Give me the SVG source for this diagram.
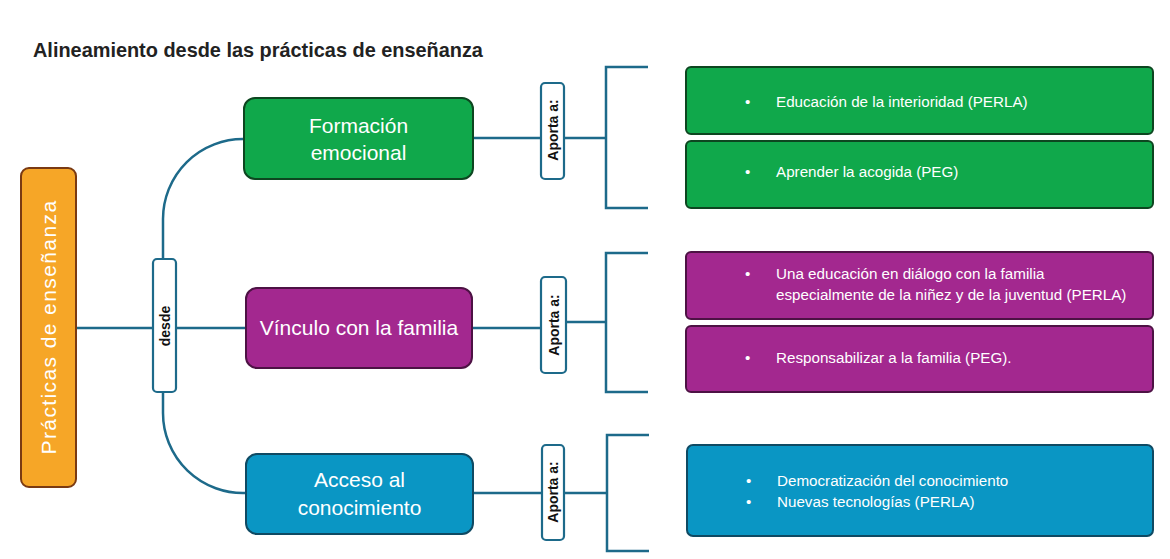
<svg xmlns="http://www.w3.org/2000/svg" width="1170" height="559" viewBox="0 0 1170 559">
<style>
  .conn { fill: none; stroke: #1d6a8a; stroke-width: 2.5; }
  .tag { fill: #ffffff; stroke: #1d6a8a; stroke-width: 2.2; }
  .tagtxt { font-family: "Liberation Sans", Arial, sans-serif; font-weight: bold; font-size: 14px; fill: #111111; }
  .node { font-family: "Liberation Sans", Arial, sans-serif; font-size: 21px; fill: #ffffff; }
  .item { font-family: "Liberation Sans", Arial, sans-serif; font-size: 15.2px; fill: #ffffff; }
  .green { fill: #10a84b; stroke: #0d4620; stroke-width: 2; }
  .purple { fill: #a3288f; stroke: #4d1244; stroke-width: 2; }
  .blue { fill: #0a96c4; stroke: #0f4a63; stroke-width: 2; }
</style>
<rect width="1170" height="559" fill="#ffffff"/>
<text x="33" y="57" font-family="Liberation Sans, Arial, sans-serif" font-weight="bold" font-size="19.9" fill="#222222">Alineamiento desde las prácticas de enseñanza</text>

<g id="connectors">
  <line class="conn" x1="76" y1="328" x2="246" y2="328"/>
  <path class="conn" d="M163,259 V219 A80,80 0 0 1 244,139"/>
  <path class="conn" d="M163,392 V413 A80,80 0 0 0 246,493"/>
  <line class="conn" x1="473" y1="138" x2="541" y2="138"/>
  <line class="conn" x1="564" y1="138" x2="606" y2="138"/>
  <path class="conn" d="M648,67 H606 V208 H648"/>
  <line class="conn" x1="472" y1="328" x2="541" y2="328"/>
  <line class="conn" x1="566" y1="322" x2="606" y2="322"/>
  <path class="conn" d="M648,253 H606 V392 H648"/>
  <line class="conn" x1="473" y1="493" x2="542" y2="493"/>
  <line class="conn" x1="564" y1="493" x2="607" y2="493"/>
  <path class="conn" d="M649,435 H607 V551 H649"/>
</g>

<g id="root">
  <rect x="21" y="168" width="55" height="319" rx="8" fill="#f6a627" stroke="#7a3a12" stroke-width="2"/>
  <text class="node" font-size="25" letter-spacing="1.4" text-anchor="middle" dominant-baseline="central" transform="translate(48.5,327) rotate(-90)">Prácticas de enseñanza</text>
</g>

<g id="desde">
  <rect class="tag" x="153" y="259" width="23" height="133" rx="4"/>
  <text class="tagtxt" text-anchor="middle" dominant-baseline="central" transform="translate(165,326) rotate(-90)">desde</text>
</g>

<g id="formacion">
  <rect class="green" x="244" y="98" width="229" height="81" rx="11"/>
  <text class="node" x="358.5" y="133" text-anchor="middle">Formación</text>
  <text class="node" x="358.5" y="160" text-anchor="middle">emocional</text>
</g>

<g id="vinculo">
  <rect class="purple" x="246" y="288" width="226" height="80" rx="11"/>
  <text class="node" x="359" y="335" text-anchor="middle">Vínculo con la familia</text>
</g>

<g id="acceso">
  <rect class="blue" x="246" y="454" width="227" height="80" rx="11"/>
  <text class="node" x="359.5" y="487" text-anchor="middle">Acceso al</text>
  <text class="node" x="359.5" y="515" text-anchor="middle">conocimiento</text>
</g>

<g id="aporta1">
  <rect class="tag" x="541" y="83" width="23" height="96" rx="4"/>
  <text class="tagtxt" text-anchor="middle" dominant-baseline="central" transform="translate(553,130) rotate(-90)">Aporta a:</text>
</g>
<g id="aporta2">
  <rect class="tag" x="541" y="277" width="25" height="96" rx="4"/>
  <text class="tagtxt" text-anchor="middle" dominant-baseline="central" transform="translate(554,325) rotate(-90)">Aporta a:</text>
</g>
<g id="aporta3">
  <rect class="tag" x="542" y="445" width="22" height="95" rx="4"/>
  <text class="tagtxt" text-anchor="middle" dominant-baseline="central" transform="translate(553,492) rotate(-90)">Aporta a:</text>
</g>

<g id="item1">
  <rect class="green" x="686" y="67" width="467" height="67" rx="5"/>
  <text class="item" x="745" y="107">•</text>
  <text class="item" x="776" y="107">Educación de la interioridad (PERLA)</text>
</g>
<g id="item2">
  <rect class="green" x="686" y="141" width="467" height="67" rx="5"/>
  <text class="item" x="745" y="177">•</text>
  <text class="item" x="776" y="177">Aprender la acogida (PEG)</text>
</g>
<g id="item3">
  <rect class="purple" x="686" y="252" width="467" height="67" rx="5"/>
  <text class="item" x="745" y="279">•</text>
  <text class="item" x="776" y="279">Una educación en diálogo con la familia</text>
  <text class="item" x="776" y="300">especialmente de la niñez y de la juventud (PERLA)</text>
</g>
<g id="item4">
  <rect class="purple" x="686" y="326" width="467" height="66" rx="5"/>
  <text class="item" x="745" y="363">•</text>
  <text class="item" x="776" y="363">Responsabilizar a la familia (PEG).</text>
</g>
<g id="item5">
  <rect class="blue" x="687" y="445" width="466" height="91" rx="6"/>
  <text class="item" x="746" y="486">•</text>
  <text class="item" x="777" y="486">Democratización del conocimiento</text>
  <text class="item" x="746" y="507">•</text>
  <text class="item" x="777" y="507">Nuevas tecnologías (PERLA)</text>
</g>
</svg>
